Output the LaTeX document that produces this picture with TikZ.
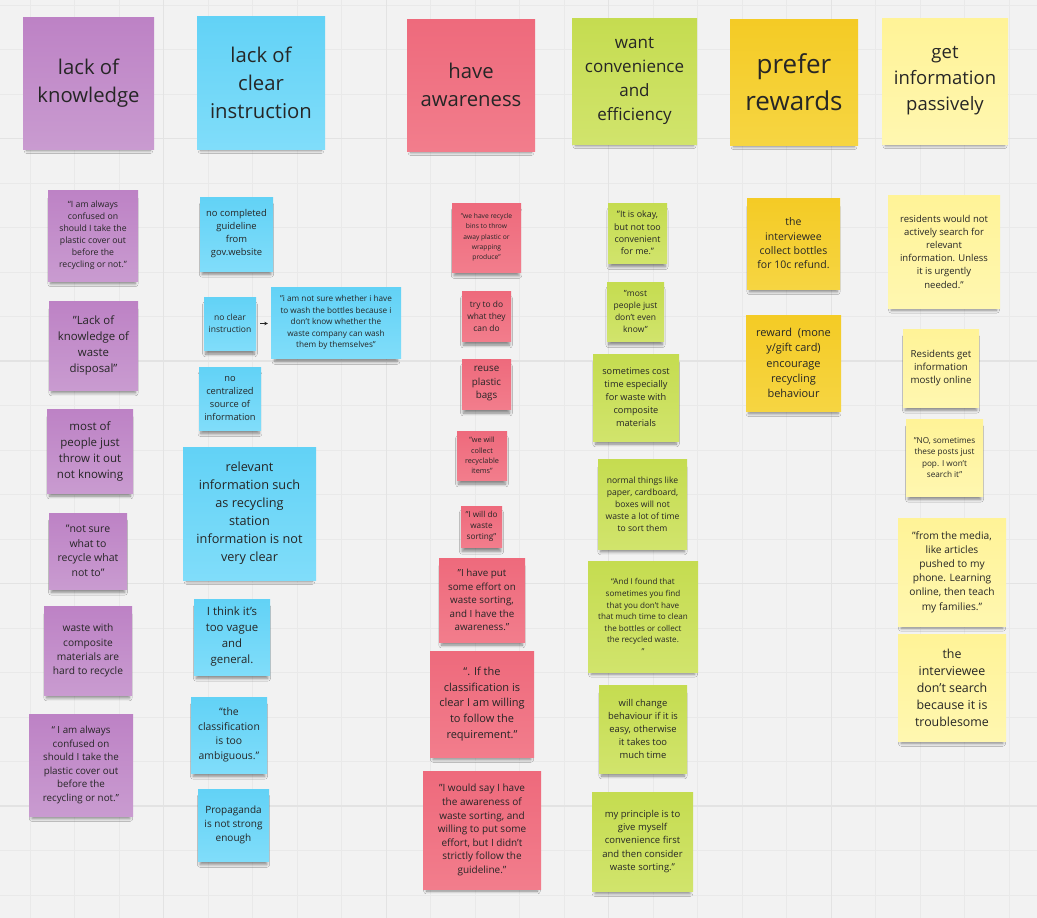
\documentclass[tikz,border=0pt]{standalone}
\usepackage{fontspec}
\setmainfont{Open Sans}
\usetikzlibrary{arrows.meta}
\usetikzlibrary{shadows.blur}

\definecolor{board}{HTML}{F2F2F2}
\definecolor{gridminor}{HTML}{E9E9E9}
\definecolor{gridmajor}{HTML}{E3E3E3}
\definecolor{ink}{HTML}{262626}
\definecolor{knowtop}{HTML}{BD82C5}
\definecolor{knowbot}{HTML}{C99BD0}
\definecolor{instrtop}{HTML}{62D2F6}
\definecolor{instrbot}{HTML}{80DDFA}
\definecolor{awaretop}{HTML}{EE6A7C}
\definecolor{awarebot}{HTML}{F27D8C}
\definecolor{convtop}{HTML}{C5DC50}
\definecolor{convbot}{HTML}{D1E46C}
\definecolor{rewardtop}{HTML}{F4CB25}
\definecolor{rewardbot}{HTML}{F6D542}
\definecolor{passivetop}{HTML}{FFF397}
\definecolor{passivebot}{HTML}{FFF7B0}

\begin{document}
\begin{tikzpicture}[x=1pt,y=-1pt,
	note/.style={inner sep=0pt,align=center,text=ink,
		blur shadow={shadow xshift=0pt,shadow yshift=-6pt,shadow scale=0.94,
			shadow opacity=45,shadow blur radius=3pt,shadow blur steps=6}},
	sz/.style 2 args={minimum width=#1pt,minimum height=#2pt},
	fs/.style 2 args={font=\fontsize{#1pt}{#2pt}\selectfont},
	know/.style={note,top color=knowtop,bottom color=knowbot},
	instr/.style={note,top color=instrtop,bottom color=instrbot},
	aware/.style={note,top color=awaretop,bottom color=awarebot},
	conv/.style={note,top color=convtop,bottom color=convbot},
	reward/.style={note,top color=rewardtop,bottom color=rewardbot},
	passive/.style={note,top color=passivetop,bottom color=passivebot},
	pointer/.style={-{Stealth[length=3.5pt,width=3.5pt]},line width=0.7pt,black!85,
		shorten <=4pt,shorten >=3pt}]

	% board
	\fill[board] (0,0) rectangle (1037,918);
	\useasboundingbox (0,0) rectangle (1037,918);
	\foreach \x in {30,74.5,...,1010}
		\draw[gridminor,line width=0.7pt] (\x,0) -- (\x,918);
	\foreach \y in {5,49.5,...,900}
		\draw[gridminor,line width=0.7pt] (0,\y) -- (1037,\y);
	\foreach \x in {163.5,386,608.5,831}
		\draw[gridmajor,line width=0.9pt] (\x,0) -- (\x,918);
	\foreach \y in {138.5,361,583.5,806}
		\draw[gridmajor,line width=1.1pt] (0,\y) -- (1037,\y);

	% headers
	\node[know,sz={131}{132},fs={20.3}{28.5}] (knowhead) at (88.5,83) {lack of\\knowledge};
	\node[instr,sz={128}{133},fs={20.3}{28}] (instrhead) at (261,82.5) {lack of\\clear\\instruction};
	\node[aware,sz={128}{132},fs={20.3}{28}] (awarehead) at (471,85) {have\\awareness};
	\node[conv,sz={125}{126},fs={17}{24}] (convhead) at (634.5,81) {want\\convenience\\and\\efficiency};
	\node[reward,sz={128}{126},fs={26}{37}] (rewardhead) at (794,82) {prefer\\rewards};
	\node[passive,sz={126}{126},fs={18.5}{26}] (passivehead) at (945,81) {get\\information\\passively};

	% lack of knowledge
	\node[know,sz={90}{91},fs={8.7}{12}] (know1) at (93,235.5)
		{“I am always\\confused on\\should I take the\\plastic cover out\\before the\\recycling or not.”};
	\node[know,sz={89}{89},fs={11.4}{16}] (know2) at (93.5,345.5)
		{"Lack of\\knowledge of\\waste\\disposal"};
	\node[know,sz={86}{84},fs={11.5}{16}] (know3) at (90,451)
		{most of\\people just\\throw it out\\not knowing};
	\node[know,sz={78}{76},fs={10.5}{14.5}] (know4) at (88,551)
		{"not sure\\what to\\recycle what\\not to"};
	\node[know,sz={88}{89},fs={10.2}{14.3}] (know5) at (88,650.5)
		{waste with\\composite\\materials are\\hard to recycle};
	\node[know,sz={104}{102},fs={9.8}{13.5}] (know6) at (81,765)
		{“ I am always\\confused on\\should I take the\\plastic cover out\\before the\\recycling or not.”};

	% lack of clear instruction
	\node[instr,sz={73}{74},fs={9.4}{13}] (instr1) at (236.5,234)
		{no completed\\guideline\\from\\gov.website};
	\node[instr,sz={52}{53},fs={8.5}{11.7}] (instr2) at (230,323.5)
		{no clear\\instruction};
	\node[instr,sz={130}{71},fs={8.2}{11.5}] (instr3) at (336,322.5)
		{"i am not sure whether i have\\to wash the bottles because i\\don't know whether the\\waste company can wash\\them by themselves"};
	\node[instr,sz={62}{63},fs={9.3}{13}] (instr4) at (230,398.5)
		{no\\centralized\\source of\\information};
	\node[instr,sz={133}{133},fs={12.7}{18}] (instr5) at (249.5,513.5)
		{relevant\\information such\\as recycling\\station\\information is not\\very clear};
	\node[instr,sz={76}{76},fs={11.4}{16}] (instr6) at (232,637)
		{I think it's\\too vague\\and\\general.};
	\node[instr,sz={76}{76},fs={10.4}{14.5}] (instr7) at (229,735)
		{“the\\classification\\is too\\ambiguous.”};
	\node[instr,sz={71}{72},fs={10}{14}] (instr8) at (233.5,825)
		{Propaganda\\is not strong\\enough};
	\draw[pointer] (instr2.east) -- (instr2.east -| instr3.west);

	% have awareness
	\node[aware,sz={69}{69},fs={6.7}{10.3}] (aware1) at (486.5,237.5)
		{"we have recycle\\bins to throw\\away plastic or\\wrapping\\produce"};
	\node[aware,sz={49}{50},fs={8.4}{12}] (aware2) at (486.5,316)
		{try to do\\what they\\can do};
	\node[aware,sz={49}{50},fs={9.8}{13.5}] (aware3) at (486.5,384)
		{reuse\\plastic\\bags};
	\node[aware,sz={50}{49},fs={7.3}{10.4}] (aware4) at (482,455.5)
		{"we will\\collect\\recyclable\\items"};
	\node[aware,sz={41}{41},fs={8.2}{11.3}] (aware5) at (481.5,526.5)
		{"I will do\\waste\\sorting"};
	\node[aware,sz={86}{84},fs={9.8}{13.5}] (aware6) at (482,600)
		{"I have put\\some effort on\\waste sorting,\\and I have the\\awareness."};
	\node[aware,sz={104}{106},fs={11}{15.6}] (aware7) at (482,704)
		{“. If the\\classification is\\clear I am willing\\to follow the\\requirement.”};
	\node[aware,sz={118}{118},fs={10}{13.6}] (aware8) at (482,830)
		{"I would say I have\\the awareness of\\waste sorting, and\\willing to put some\\effort, but I didn’t\\strictly follow the\\guideline."};

	% want convenience and efficiency
	\node[conv,sz={59}{60},fs={8.9}{12.3}] (conv1) at (637.5,233)
		{"It is okay,\\but not too\\convenient\\for me."};
	\node[conv,sz={57}{59},fs={8.5}{12}] (conv2) at (635.5,311.5)
		{"most\\people just\\don't even\\know"};
	\node[conv,sz={86}{87},fs={9.2}{13}] (conv3) at (636,397.5)
		{sometimes cost\\time especially\\for waste with\\composite\\materials};
	\node[conv,sz={89}{90},fs={8.6}{12}] (conv4) at (642.5,504)
		{normal things like\\paper, cardboard,\\boxes will not\\waste a lot of time\\to sort them};
	\node[conv,sz={110}{111},fs={8.1}{11.6}] (conv5) at (643,616.5)
		{“And I found that\\sometimes you find\\that you don’t have\\that much time to clean\\the bottles or collect\\the recycled waste.\\”};
	\node[conv,sz={88}{88},fs={9.4}{13.2}] (conv6) at (643,729)
		{will change\\behaviour if it is\\easy, otherwise\\it takes too\\much time};
	\node[conv,sz={101}{99},fs={9.5}{13.1}] (conv7) at (642.5,841.5)
		{my principle is to\\give myself\\convenience first\\and then consider\\waste sorting.”};

	% prefer rewards
	\node[reward,sz={93}{91},fs={10.5}{14.3}] (reward1) at (793.5,243.5)
		{the\\interviewee\\collect bottles\\for 10c refund.};
	\node[reward,sz={95}{96},fs={11}{15.3}] (reward2) at (793.5,363)
		{reward\ \ (mone\\y/gift card)\\encourage\\recycling\\behaviour};

	% get information passively
	\node[passive,sz={112}{113},fs={9.5}{13.2}] (passive1) at (944,251.5)
		{residents would not\\actively search for\\relevant\\information. Unless\\it is urgently\\needed.”};
	\node[passive,sz={76}{78},fs={9.7}{13.3}] (passive2) at (941,368)
		{Residents get\\information\\mostly online};
	\node[passive,sz={77}{77},fs={8.2}{11.5}] (passive3) at (944.5,457.5)
		{"NO, sometimes\\these posts just\\pop. I won’t\\search it"};
	\node[passive,sz={108}{108},fs={10.2}{14.2}] (passive4) at (952,572)
		{"from the media,\\like articles\\pushed to my\\phone. Learning\\online, then teach\\my families.”};
	\node[passive,sz={108}{107},fs={12.4}{17}] (passive5) at (952,687.5)
		{the\\interviewee\\don't search\\because it is\\troublesome};
\end{tikzpicture}
\end{document}
